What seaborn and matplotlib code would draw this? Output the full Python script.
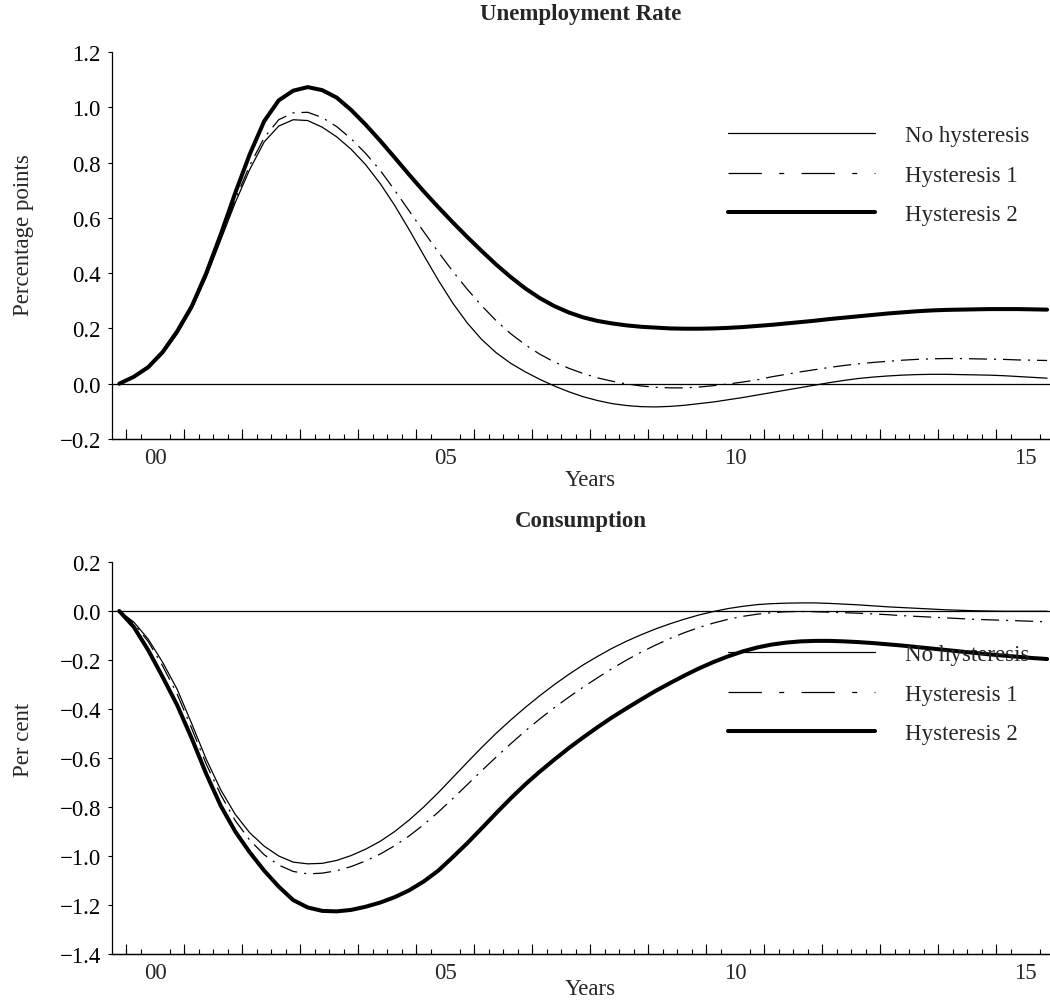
import numpy as np
import pandas as pd
import matplotlib
matplotlib.use("Agg")
import matplotlib.pyplot as plt
from matplotlib.lines import Line2D
import seaborn as sns

# quarters measured from 2000Q1 start; points at quarter mid-points
quarters = np.arange(-0.5, 64.0, 1.0)

year_tick_pos = [2, 22, 42, 62]
year_tick_labels = ["00", "05", "10", "15"]
series_names = ["No hysteresis", "Hysteresis 1", "Hysteresis 2"]

unemp_no_hyst = [
    0.0, 0.022, 0.055, 0.108, 0.18, 0.27, 0.385, 0.52, 0.655, 0.775,
    0.875, 0.932, 0.955, 0.952, 0.928, 0.893, 0.848, 0.792, 0.724, 0.645,
    0.557, 0.465, 0.375, 0.292, 0.22, 0.16, 0.112, 0.074, 0.043, 0.016,
    -0.008, -0.029, -0.047, -0.061, -0.072, -0.079, -0.083, -0.084, -0.082, -0.078,
    -0.072, -0.066, -0.058, -0.05, -0.041, -0.032, -0.023, -0.014, -0.005, 0.004,
    0.012, 0.019, 0.024, 0.028, 0.031, 0.033, 0.034, 0.034, 0.033, 0.032,
    0.031, 0.029, 0.026, 0.023, 0.02,
]
unemp_hyst1 = [
    0.0, 0.023, 0.057, 0.11, 0.183, 0.273, 0.39, 0.525, 0.665, 0.79,
    0.89, 0.955, 0.98, 0.982, 0.963, 0.93, 0.886, 0.833, 0.772, 0.7,
    0.625, 0.55, 0.477, 0.407, 0.342, 0.282, 0.228, 0.181, 0.141, 0.107,
    0.079, 0.056, 0.037, 0.021, 0.009, -0.001, -0.008, -0.013, -0.015, -0.015,
    -0.012, -0.007, -0.001, 0.006, 0.014, 0.025, 0.034, 0.043, 0.051, 0.059,
    0.066, 0.072, 0.077, 0.081, 0.085, 0.088, 0.09, 0.091, 0.091, 0.09,
    0.089, 0.088, 0.086, 0.085, 0.084,
]
unemp_hyst2 = [
    0.0, 0.025, 0.06, 0.115, 0.19, 0.28, 0.40, 0.54, 0.69, 0.83,
    0.95, 1.025, 1.06, 1.073, 1.062, 1.035, 0.99, 0.937, 0.879, 0.818,
    0.756, 0.696, 0.639, 0.584, 0.531, 0.48, 0.431, 0.386, 0.345, 0.31,
    0.281, 0.258, 0.24, 0.227, 0.218, 0.211, 0.206, 0.203, 0.2, 0.199,
    0.199, 0.200, 0.202, 0.205, 0.209, 0.213, 0.218, 0.223, 0.228, 0.234,
    0.239, 0.244, 0.249, 0.254, 0.258, 0.262, 0.265, 0.267, 0.268, 0.269,
    0.27, 0.27, 0.27, 0.269, 0.268,
]

cons_no_hyst = [
    0.0, -0.045, -0.115, -0.21, -0.32, -0.46, -0.605, -0.73, -0.83, -0.905,
    -0.96, -1.0, -1.025, -1.032, -1.03, -1.018, -0.998, -0.972, -0.94, -0.9,
    -0.853, -0.8, -0.742, -0.68, -0.618, -0.557, -0.499, -0.445, -0.394, -0.346,
    -0.301, -0.259, -0.22, -0.185, -0.152, -0.123, -0.097, -0.073, -0.052, -0.033,
    -0.016, -0.002, 0.01, 0.019, 0.026, 0.03, 0.032, 0.033, 0.033, 0.031,
    0.028, 0.025, 0.021, 0.017, 0.014, 0.011, 0.008, 0.005, 0.003, 0.001,
    0.0, -0.001, -0.001, -0.001, -0.001,
]
cons_hyst1 = [
    0.0, -0.05, -0.125, -0.225, -0.34, -0.48, -0.625, -0.75, -0.855, -0.935,
    -0.995, -1.037, -1.063, -1.073, -1.07, -1.06, -1.043, -1.02, -0.992, -0.958,
    -0.918, -0.872, -0.821, -0.766, -0.709, -0.652, -0.596, -0.542, -0.49, -0.441,
    -0.395, -0.352, -0.311, -0.272, -0.235, -0.2, -0.168, -0.139, -0.112, -0.088,
    -0.067, -0.049, -0.034, -0.022, -0.013, -0.007, -0.003, -0.002, -0.003, -0.005,
    -0.007, -0.009, -0.012, -0.015, -0.019, -0.022, -0.025, -0.028, -0.031, -0.034,
    -0.036, -0.038, -0.04, -0.042, -0.044,
]
cons_hyst2 = [
    0.0, -0.065, -0.16, -0.27, -0.385, -0.52, -0.665, -0.795, -0.9, -0.985,
    -1.06, -1.125, -1.18, -1.21, -1.224, -1.226, -1.22, -1.207, -1.19, -1.168,
    -1.14, -1.104, -1.06, -1.005, -0.948, -0.887, -0.825, -0.765, -0.708, -0.656,
    -0.607, -0.56, -0.516, -0.474, -0.434, -0.397, -0.361, -0.326, -0.294, -0.263,
    -0.234, -0.208, -0.185, -0.165, -0.149, -0.137, -0.129, -0.124, -0.122, -0.122,
    -0.124, -0.127, -0.131, -0.136, -0.141, -0.147, -0.153, -0.159, -0.165, -0.171,
    -0.177, -0.182, -0.187, -0.192, -0.196,
]

sns.set_theme(style="ticks")
plt.rcParams["font.family"] = ["Liberation Serif", "DejaVu Serif"]
plt.rcParams["lines.scale_dashes"] = False
plt.rcParams["axes.unicode_minus"] = True

FS = 16.5
W, H = 1050, 1004
fig = plt.figure(figsize=(W / 100, H / 100), dpi=100)


def fpos(top_px, bottom_px, left_px=112, right_px=1050):
    return [left_px / W, 1 - bottom_px / H, (right_px - left_px) / W, (bottom_px - top_px) / H]


ax1 = fig.add_axes(fpos(53, 440))
ax2 = fig.add_axes(fpos(563, 955))

styles = {
    "No hysteresis": dict(lw=0.9, ls="-"),
    "Hysteresis 1": dict(lw=0.9, ls=(0, (13, 5, 1.5, 5))),
    "Hysteresis 2": dict(lw=2.9, ls="-"),
}
legend_styles = {
    "No hysteresis": dict(lw=0.9, ls="-"),
    "Hysteresis 1": dict(lw=0.9, ls=(0, (24, 12.5, 3.6, 12.5))),
    "Hysteresis 2": dict(lw=2.9, ls="-"),
}


def fmt(t):
    if abs(t) < 1e-9:
        return "0.0"
    return f"{t:.1f}".replace("-", "\u2212")


def draw_panel(ax, data, ylim, yticks, title, ylabel, title_pad, ylab_y, legend_y, xlab_y):
    ax.axhline(0, color="black", lw=0.9, zorder=1)
    for name, vals in zip(series_names, data):
        df = pd.DataFrame({"q": quarters, "v": vals})
        st = styles[name]
        sns.lineplot(data=df, x="q", y="v", ax=ax, color="black",
                     linewidth=st["lw"], linestyle=st["ls"], zorder=3)
    ax.set_xlim(-1, 63.7)
    ax.set_ylim(*ylim)
    ax.set_yticks(yticks)
    ax.set_yticklabels([fmt(t) for t in yticks], fontsize=FS)
    ax.tick_params(axis="y", left=True, direction="out", length=3, width=0.8, pad=5, colors="black")

    ax.set_xticks(year_tick_pos)
    ax.set_xticklabels(year_tick_labels, fontsize=FS)
    ax.set_xticks(np.arange(0, 64, 1), minor=True)
    ax.tick_params(axis="x", which="major", bottom=True, length=0, pad=6)
    ax.tick_params(axis="x", which="minor", bottom=True, direction="in", length=3.6,
                   width=0.8, colors="black")
    sec = ax.secondary_xaxis("bottom")
    sec.set_xticks(np.arange(0, 64, 4))
    sec.set_xticklabels([])
    sec.tick_params(bottom=True, direction="in", length=7.2, width=0.8, colors="black")
    sec.spines["bottom"].set_linewidth(0.9)
    sec.spines["bottom"].set_color("black")

    sns.despine(ax=ax, top=True, right=True)
    for s in ("left", "bottom"):
        ax.spines[s].set_color("black")
        ax.spines[s].set_linewidth(0.9)

    ax.set_title(title, fontsize=FS, fontweight="bold", pad=title_pad)
    ax.set_ylabel(ylabel, fontsize=FS)
    ax.yaxis.set_label_coords(-0.083, ylab_y)
    ax.set_xlabel("Years", fontsize=FS, va="top")
    ax.xaxis.set_label_coords(0.51, xlab_y)

    handles = [Line2D([], [], color="black", linewidth=legend_styles[n]["lw"],
                      linestyle=legend_styles[n]["ls"]) for n in series_names]
    ax.legend(handles, series_names, loc="center left",
              bbox_to_anchor=(0.657, legend_y), frameon=False, fontsize=FS,
              borderpad=0, borderaxespad=0, handlelength=6.4, handletextpad=1.3,
              labelspacing=0.82)


draw_panel(ax1, [unemp_no_hyst, unemp_hyst1, unemp_hyst2], (-0.2, 1.2),
           np.round(np.arange(-0.2, 1.21, 0.2), 1), "Unemployment Rate",
           "Percentage points", 24, 0.53, 0.682, -0.078)
draw_panel(ax2, [cons_no_hyst, cons_hyst1, cons_hyst2], (-1.4, 0.2),
           np.round(np.arange(-1.4, 0.21, 0.2), 1), "Consumption",
           "Per cent", 26, 0.55, 0.663, -0.06)

fig.savefig("out.png", dpi=100, facecolor="white")
